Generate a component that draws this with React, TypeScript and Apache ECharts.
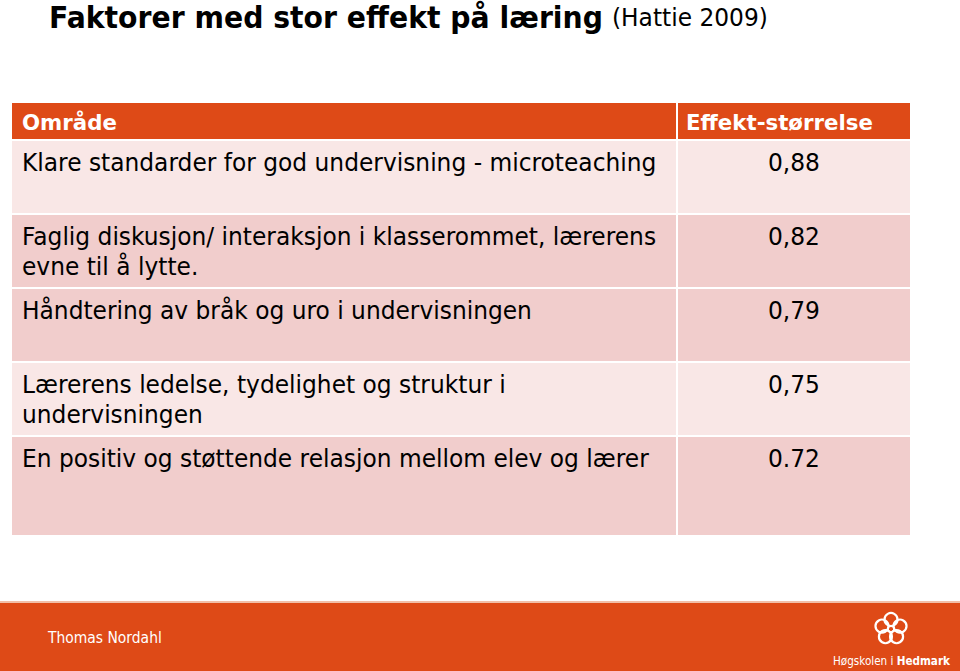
import React, { useEffect, useRef } from "react";
import * as echarts from "echarts";

const titleMain = "Faktorer med stor effekt på læring";
const titleSource = "(Hattie 2009)";
const headerLabels = ["Område", "Effekt-størrelse"];
const areas = [
  "Klare standarder for god undervisning - microteaching",
  "Faglig diskusjon/ interaksjon i klasserommet, lærerens\nevne til å lytte.",
  "Håndtering av bråk og uro i undervisningen",
  "Lærerens ledelse, tydelighet og struktur i\nundervisningen",
  "En positiv og støttende relasjon mellom elev og lærer",
];
const effectLabels = ["0,88", "0,82", "0,79", "0,75", "0.72"];
const footerAuthor = "Thomas Nordahl";
const logoName = ["Høgskolen i ", "Hedmark"];

// layout (not data)
const rowHeights = [72, 72, 72, 72, 98];
const rowFills = ["#F9E7E6", "#F1CDCC", "#F1CDCC", "#F9E7E6", "#F1CDCC"];
const ORANGE = "#DE4A17";
const FONT = '"DejaVu Sans", Verdana, sans-serif';

function measure(text: string, font: string): number {
  const c = document.createElement("canvas").getContext("2d");
  if (!c) return text.length * 10;
  c.font = font;
  return c.measureText(text).width;
}

export default function App() {
  const ref = useRef<HTMLDivElement>(null);
  useEffect(() => {
    if (!ref.current) return;
    const chart = echarts.init(ref.current, null, { renderer: "svg" });

    const bodyFont = `24px ${FONT}`;
    const bodyScale = 635 / measure(areas[0], bodyFont);
    const headFont = `bold 22px ${FONT}`;
    const headScale = 187 / measure(headerLabels[1], headFont);
    const titleFont = `bold 31px ${FONT}`;
    const titleScale = 554 / measure(titleMain, titleFont);
    const srcFont = `25px ${FONT}`;
    const srcScale = 156 / measure(titleSource, srcFont);
    const footFont = `16px ${FONT}`;
    const footScale = 114 / measure(footerAuthor, footFont);
    const logoFont = `12px ${FONT}`;
    const logoBold = `bold 12px ${FONT}`;
    const logoW1 = measure(logoName[0], logoFont);
    const logoW2 = measure(logoName[1], logoBold);
    const logoScale = 117 / (logoW1 + logoW2);

    const tableX = 12;
    const tableR = 910;
    const divX = 677;
    const headerY = 103;
    const headerH = 36;
    const gap = 2;
    const valueCx = (divX + 1 + tableR) / 2;

    const els: any[] = [];
    // title
    els.push({
      type: "text", x: 49, y: 17, scaleX: titleScale,
      style: { text: titleMain, font: titleFont, fill: "#000", verticalAlign: "middle" },
    });
    els.push({
      type: "text", x: 612, y: 18, scaleX: srcScale,
      style: { text: titleSource, font: srcFont, fill: "#000", verticalAlign: "middle" },
    });
    // header
    els.push({ type: "rect", shape: { x: tableX, y: headerY, width: divX - tableX - 1, height: headerH }, style: { fill: ORANGE } });
    els.push({ type: "rect", shape: { x: divX + 1, y: headerY, width: tableR - divX - 1, height: headerH }, style: { fill: ORANGE } });
    els.push({
      type: "text", x: 22, y: headerY + headerH / 2 + 1, scaleX: headScale,
      style: { text: headerLabels[0], font: headFont, fill: "#fff", verticalAlign: "middle" },
    });
    els.push({
      type: "text", x: 686, y: headerY + headerH / 2 + 1, scaleX: headScale,
      style: { text: headerLabels[1], font: headFont, fill: "#fff", verticalAlign: "middle" },
    });
    // rows
    let y = headerY + headerH + gap;
    areas.forEach((a, i) => {
      const h = rowHeights[i];
      els.push({ type: "rect", shape: { x: tableX, y, width: divX - tableX - 1, height: h }, style: { fill: rowFills[i] } });
      els.push({ type: "rect", shape: { x: divX + 1, y, width: tableR - divX - 1, height: h }, style: { fill: rowFills[i] } });
      els.push({
        type: "text", x: 22, y: y + 7, scaleX: bodyScale,
        style: { text: a, font: bodyFont, fill: "#000", verticalAlign: "top", lineHeight: 30 },
      });
      els.push({
        type: "text", x: valueCx, y: y + 7, scaleX: bodyScale,
        style: { text: effectLabels[i], font: bodyFont, fill: "#000", align: "center", verticalAlign: "top", lineHeight: 30 },
      });
      y += h + gap;
    });
    // footer
    els.push({ type: "rect", shape: { x: 0, y: 601, width: 960, height: 2 }, style: { fill: "#F2BFA8" } });
    els.push({ type: "rect", shape: { x: 0, y: 603, width: 960, height: 68 }, style: { fill: ORANGE } });
    els.push({
      type: "text", x: 48, y: 638, scaleX: footScale,
      style: { text: footerAuthor, font: footFont, fill: "#fff", verticalAlign: "middle" },
    });
    // logo knot
    const cx = 891, cy = 629;
    for (let k = 0; k < 5; k++) {
      const ang = -Math.PI / 2 + (k * 2 * Math.PI) / 5;
      els.push({
        type: "circle",
        shape: { cx: cx + Math.cos(ang) * 9.5, cy: cy + Math.sin(ang) * 9.5, r: 6.5 },
        style: { fill: "none", stroke: "#fff", lineWidth: 2.2 },
      });
    }
    els.push({ type: "circle", shape: { cx, cy, r: 3 }, style: { fill: "none", stroke: "#fff", lineWidth: 1.5 } });
    els.push({
      type: "group", x: 833, y: 661, scaleX: logoScale,
      children: [
        { type: "text", x: 0, y: 0, style: { text: logoName[0], font: logoFont, fill: "#fff", verticalAlign: "middle" } },
        { type: "text", x: logoW1, y: 0, style: { text: logoName[1], font: logoBold, fill: "#fff", verticalAlign: "middle" } },
      ],
    });

    chart.setOption({
      animation: false,
      backgroundColor: "#ffffff",
      graphic: { elements: els },
    });
    return () => chart.dispose();
  }, []);
  return (
    <div
      ref={ref}
      style={{ position: "fixed", left: 0, top: 0, width: 960, height: 671 }}
    />
  );
}
